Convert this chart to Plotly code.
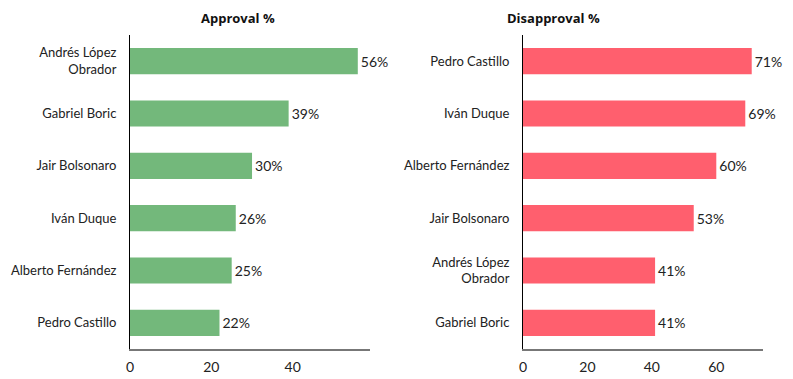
import plotly.graph_objects as go

approval_names = ["Andrés López<br>Obrador", "Gabriel Boric", "Jair Bolsonaro", "Iván Duque", "Alberto Fernández", "Pedro Castillo"]
approval_values = [56, 39, 30, 26, 25, 22]

disapproval_names = ["Pedro Castillo", "Iván Duque", "Alberto Fernández", "Jair Bolsonaro", "Andrés López<br>Obrador", "Gabriel Boric"]
disapproval_values = [71, 69, 60, 53, 41, 41]

green = "#73B87B"
red = "#FF5F6E"
font_family = "Lato, 'Open Sans', sans-serif"

# the page body has an 8px margin; work in reference pixel coords minus this offset
OFF = 8
W, H = 793 - OFF, 379 - OFF
T, B = 35 - OFF, 30

fig = go.Figure()
fig.add_trace(go.Bar(
    x=approval_values, y=approval_names, orientation="h",
    marker=dict(color=green, line=dict(width=0)), width=0.5,
    text=[f"{v}%" for v in approval_values], textposition="outside",
    textfont=dict(size=14, color="#222"), cliponaxis=False,
    xaxis="x", yaxis="y", showlegend=False,
))
fig.add_trace(go.Bar(
    x=disapproval_values, y=disapproval_names, orientation="h",
    marker=dict(color=red, line=dict(width=0)), width=0.5,
    text=[f"{v}%" for v in disapproval_values], textposition="outside",
    textfont=dict(size=14, color="#222"), cliponaxis=False,
    xaxis="x2", yaxis="y2", showlegend=False,
))

common_x = dict(showgrid=False, zeroline=False, showline=True, linecolor="#777", linewidth=2,
                ticks="", tickfont=dict(size=14, color="#222"), automargin=False, fixedrange=True,
                ticklabelstandoff=4)
common_y = dict(showgrid=False, zeroline=False, showline=True, linecolor="#000", linewidth=1,
                ticks="", tickfont=dict(size=13, color="#222"), automargin=False,
                autorange="reversed", ticklabelstandoff=10)

fig.update_layout(
    width=W, height=H,
    margin=dict(l=0, r=0, t=T, b=B),
    paper_bgcolor="white", plot_bgcolor="white",
    font=dict(family=font_family, color="#222"),
    xaxis=dict(domain=[(130 - OFF) / W, (370 - OFF) / W], range=[0, 59], tickvals=[0, 20, 40], anchor="y", **common_x),
    yaxis=dict(domain=[0, 1], anchor="x", categoryorder="array", categoryarray=approval_names, **common_y),
    xaxis2=dict(domain=[(523 - OFF) / W, (763 - OFF) / W], range=[0, 74.5], tickvals=[0, 20, 40, 60], anchor="y2", **common_x),
    yaxis2=dict(domain=[0, 1], anchor="x2", categoryorder="array", categoryarray=disapproval_names, **common_y),
)

plot_h = H - T - B
title_font = dict(size=13, color="#111", family="'Open Sans', sans-serif")
title_y = 1 + T / plot_h
fig.add_annotation(text="<b>Approval %</b>", x=(200 - OFF) / W, y=title_y,
                   xref="paper", yref="paper", showarrow=False, yanchor="top", borderpad=0, font=title_font)
fig.add_annotation(text="<b>Disapproval %</b>", x=(601 - OFF) / W, y=title_y,
                   xref="paper", yref="paper", showarrow=False, yanchor="top", borderpad=0, font=title_font)

fig.write_html("out.html")
